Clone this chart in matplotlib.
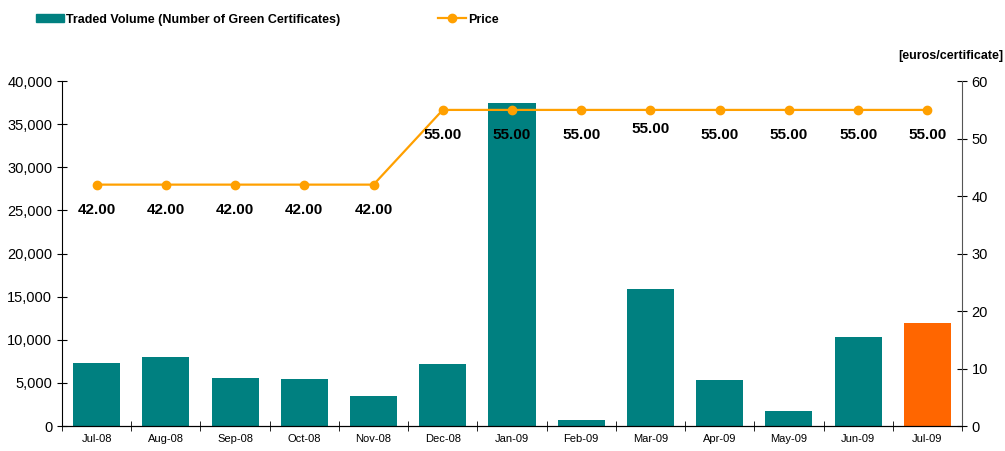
import numpy as np
import matplotlib
matplotlib.use("Agg")
import matplotlib.pyplot as plt
from matplotlib.ticker import FuncFormatter, FixedLocator
from matplotlib.patches import Patch
from matplotlib.lines import Line2D

plt.rcParams['font.family'] = ['Liberation Sans', 'DejaVu Sans']

months = ['Jul-08', 'Aug-08', 'Sep-08', 'Oct-08', 'Nov-08', 'Dec-08', 'Jan-09',
          'Feb-09', 'Mar-09', 'Apr-09', 'May-09', 'Jun-09', 'Jul-09']
volume = [7300, 8000, 5600, 5450, 3500, 7200, 37450, 700, 15900, 5350, 1750, 10350, 11950]
price = [42, 42, 42, 42, 42, 55, 55, 55, 55, 55, 55, 55, 55]

teal = '#008080'
orange_bar = '#FF6600'
line_col = '#FFA000'

fig = plt.figure(figsize=(10.05, 4.51), dpi=100)
ax = fig.add_axes([0.0617, 0.0554, 0.8955, 0.7646])
x = np.arange(len(months))
colors = [teal] * (len(months) - 1) + [orange_bar]
ax.bar(x, volume, width=0.68, color=colors, zorder=2)
ax.set_xlim(-0.5, len(months) - 0.5)
ax.set_ylim(0, 40000)
ax.set_yticks(range(0, 40001, 5000))
ax.yaxis.set_major_formatter(FuncFormatter(lambda v, p: f'{int(v):,}'))
ax.set_xticks(x)
ax.set_xticklabels(months, fontsize=8)
ax.tick_params(axis='x', length=0, pad=6)
ax.xaxis.set_minor_locator(FixedLocator(np.arange(-0.5, len(months), 1)))
ax.tick_params(axis='x', which='minor', length=7, direction='inout')
ax.tick_params(axis='y', labelsize=10.5, direction='inout', length=7, colors='black')
for s in ['top', 'right']:
    ax.spines[s].set_visible(False)

ax2 = ax.twinx()
ax2.plot(x, price, color=line_col, lw=1.6, marker='o', ms=6, zorder=3)
ax2.set_ylim(0, 60)
ax2.set_yticks(range(0, 61, 10))
ax2.tick_params(axis='y', labelsize=10.5, direction='inout', length=7)
ax2.spines['top'].set_visible(False)
ax2.spines['right'].set_color('#555555')
ax2.spines['left'].set_visible(False)
for i, p in enumerate(price):
    dy = -9 if i == 8 else -13
    ax2.annotate(f'{p:.2f}', (i, p), xytext=(0, dy), textcoords='offset points',
                 ha='center', va='top', fontsize=11, fontweight='bold')

fig.text(0.998, 0.862, '[euros/certificate]', ha='right', va='bottom',
         fontsize=9, fontweight='bold')

handles = [Patch(color=teal),
           Line2D([0], [0], color=line_col, marker='o', ms=6, lw=1.6)]
fig.legend(handles, ['Traded Volume (Number of Green Certificates)', 'Price'],
           loc='upper left', bbox_to_anchor=(0.025, 0.995), ncol=2, frameon=False,
           prop={'weight': 'bold', 'size': 9}, columnspacing=7.8,
           handlelength=2.2, handleheight=0.6, handletextpad=0.2)

fig.savefig('out.png', dpi=100)
